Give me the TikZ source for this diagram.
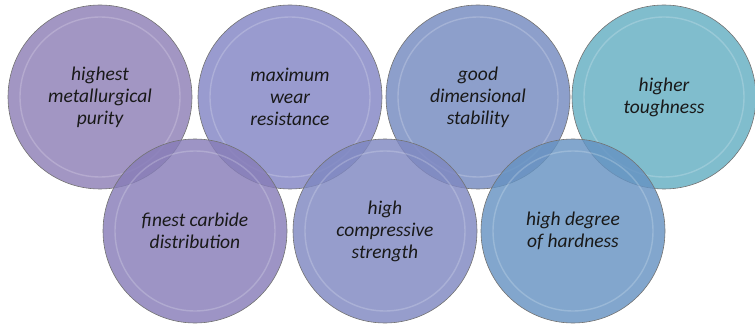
\documentclass[tikz,border=0pt]{standalone}
\usepackage{fontspec}
\setmainfont{Carlito}
\begin{document}
\begin{tikzpicture}[x=1pt,y=-1pt,
  bub/.style={circle,minimum size=184pt,inner sep=0pt,draw=black!55,line width=0.6pt,
    fill opacity=0.82,text opacity=1,align=center,font=\itshape\fontsize{19.5}{22}\selectfont,text=black!90},
  rim/.style={draw=white,draw opacity=0.2,line width=1.4pt,fill=none}]
\useasboundingbox (0,0) rectangle (755,326);
\definecolor{cA}{RGB}{142,127,182}
\definecolor{cB}{RGB}{130,133,196}
\definecolor{cC}{RGB}{116,138,192}
\definecolor{cD}{RGB}{100,174,194}
\definecolor{cE}{RGB}{135,125,184}
\definecolor{cF}{RGB}{127,136,193}
\definecolor{cG}{RGB}{102,147,194}
% top row
\node[bub,fill=cA] (a) at (100,97) {highest\\metallurgical\\purity};
\draw[rim] (a.center) circle (80);
\node[bub,fill=cB] (b) at (290,97) {maximum\\wear\\resistance};
\draw[rim] (b.center) circle (80);
\node[bub,fill=cC] (c) at (478,97) {good\\dimensional\\stability};
\draw[rim] (c.center) circle (80);
\node[bub,fill=cD] (d) at (664,97) {higher\\toughness};
\draw[rim] (d.center) circle (80);
% bottom row
\node[bub,fill=cE] (e) at (195,231) {finest carbide\\distribution};
\draw[rim] (e.center) circle (80);
\node[bub,fill=cF] (f) at (385,231) {high\\compressive\\strength};
\draw[rim] (f.center) circle (80);
\node[bub,fill=cG] (g) at (573,231) {high degree\\of hardness};
\draw[rim] (g.center) circle (80);
\end{tikzpicture}
\end{document}
